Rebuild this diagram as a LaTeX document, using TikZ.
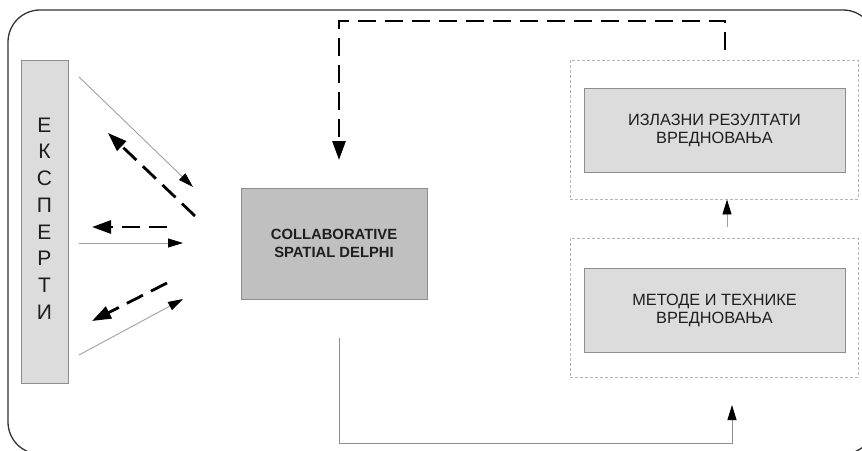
\documentclass[tikz,border=0pt]{standalone}
\usepackage{fontspec}
\setmainfont{Liberation Sans}
\usetikzlibrary{arrows.meta}
\definecolor{boxlight}{HTML}{DCDCDC}
\definecolor{boxmid}{HTML}{C0C0C0}
\definecolor{edgegray}{HTML}{8E8E8E}
\definecolor{thinline}{HTML}{A0A0A0}
\definecolor{framecol}{HTML}{333333}
\definecolor{dotcol}{HTML}{B4B4B4}
\definecolor{inkcol}{HTML}{1E1E1E}
\begin{document}
\begin{tikzpicture}[x=1pt,y=-1pt,
  lightbox/.style={draw=edgegray, fill=boxlight, line width=1pt, inner sep=0pt},
  midbox/.style={draw=edgegray, fill=boxmid, line width=1pt, inner sep=0pt},
  groupbox/.style={draw=dotcol, line width=0.9pt, dash pattern=on 3pt off 2pt, inner sep=0pt},
  boxtext/.style={align=center, text=inkcol, font=\fontsize{16.3}{18}\selectfont},
  thinarrow/.style={draw=thinline, line width=0.9pt, -{Triangle[length=15pt,width=9pt,color=black]}},
  dasharrow/.style={draw=black, line width=2.8pt, dash pattern=on 18pt off 9pt, -{Triangle[length=19pt,width=13pt]}}]
\useasboundingbox (0,0) rectangle (862,450);

% outer rounded frame, partly running off the page
\begin{scope}
  \clip (0,0) rectangle (862,450);
  \draw[framecol, line width=1.3pt, rounded corners=32pt] (8,10) rectangle (875,454);
\end{scope}

% experts column
\node[lightbox, minimum width=47pt, minimum height=323pt] (experts) at (44.5,221.5) {};
\node[align=center, text=inkcol, font=\fontsize{21}{26.7}\selectfont] (expertsLabel) at (44.5,218.5)
  {Е\\К\\С\\П\\Е\\Р\\Т\\И};

% central method
\node[midbox, minimum width=186pt, minimum height=111pt, align=center, text=inkcol,
      font=\bfseries\fontsize{14.8}{18}\selectfont] (delphi) at (334,243.5)
  {COLLABORATIVE\\SPATIAL DELPHI};

% evaluation blocks
\node[groupbox, minimum width=288pt, minimum height=139pt] (outGroup) at (714,129.5) {};
\node[lightbox, minimum width=261pt, minimum height=84pt, boxtext] (outputs) at (714.5,130)
  {ИЗЛАЗНИ РЕЗУЛТАТИ\\ВРЕДНОВАЊА};
\node[groupbox, minimum width=288pt, minimum height=139pt] (methGroup) at (714,307.5) {};
\node[lightbox, minimum width=261pt, minimum height=84pt, boxtext] (methods) at (714.5,310)
  {МЕТОДЕ И ТЕХНИКЕ\\ВРЕДНОВАЊА};

% exchange between the experts and the Delphi round
\coordinate (a1s) at (79,77);   \coordinate (a1e) at (193,187);
\coordinate (d1s) at (195,216); \coordinate (d1e) at (108,133);
\coordinate (d2s) at (167,227); \coordinate (d2e) at (92,227);
\coordinate (a2s) at (79,243);  \coordinate (a2e) at (183,243);
\coordinate (d3s) at (167,283); \coordinate (d3e) at (92,321);
\coordinate (a3s) at (79,355);  \coordinate (a3e) at (183,299);
\draw[thinarrow] (a1s) -- (a1e);
\draw[dasharrow] (d1s) -- (d1e);
\draw[dasharrow] (d2s) -- (d2e);
\draw[thinarrow] (a2s) -- (a2e);
\draw[dasharrow] (d3s) -- (d3e);
\draw[thinarrow] (a3s) -- (a3e);

% feedback from the results back into the Delphi round
\coordinate (fbStart) at (725,50);
\coordinate (fbTurn) at (339,21);
\coordinate (fbEnd) at (339,160);
\draw[dasharrow] (fbStart) |- (fbTurn) -- (fbEnd);

% Delphi output feeding the evaluation methods
\coordinate (loopStart) at (339,338);
\coordinate (loopCorner) at (339,443);
\coordinate (loopEnd) at (732,405);
\draw[thinarrow, draw=edgegray] (loopStart) -- (loopCorner) -| (loopEnd);

% methods lead to results
\coordinate (upStart) at (727,227);
\draw[thinarrow] (upStart) -- (upStart |- outGroup.south);
\end{tikzpicture}
\end{document}
